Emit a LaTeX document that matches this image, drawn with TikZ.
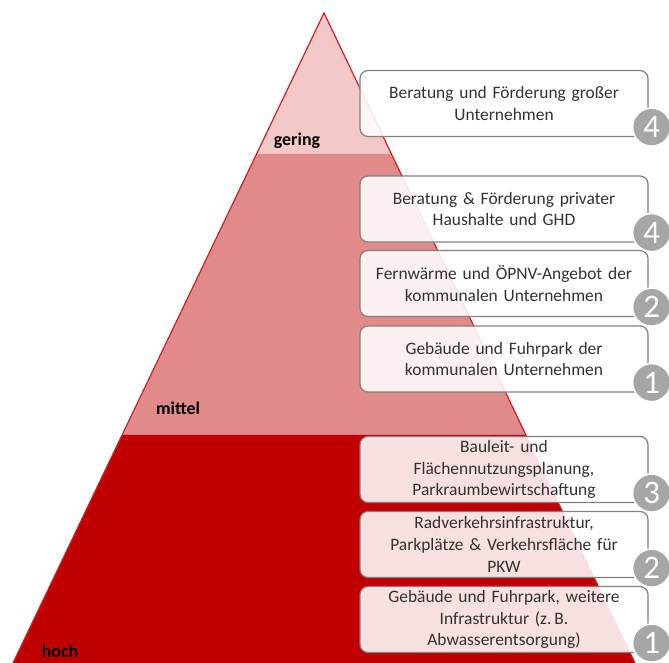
\documentclass[tikz,border=0pt]{standalone}
\usepackage{fontspec}
\setmainfont{Carlito}
\usetikzlibrary{calc}
\definecolor{low}{RGB}{242,200,201}
\definecolor{mid}{RGB}{224,138,137}
\definecolor{high}{RGB}{192,0,0}
\definecolor{edge}{RGB}{210,30,35}
\definecolor{boxline}{RGB}{128,128,128}
\definecolor{numfill}{RGB}{166,166,166}
\definecolor{txt}{RGB}{50,50,50}

\begin{document}
\begin{tikzpicture}[x=1bp, y=-1bp,
    box/.style={draw=boxline, line width=1.2bp, fill=white, fill opacity=0.88, text opacity=1, rounded corners=8bp,
      minimum width=288bp, minimum height=66bp, text width=280bp, inner sep=0pt, align=center, text=txt,
      font=\fontsize{17.5}{22}\selectfont},
    num/.style={circle, draw=white, line width=1.5bp, fill=numfill, text=white, minimum size=38bp, inner sep=0pt,
      font=\fontsize{33}{33}\selectfont},
    tier/.style={font=\bfseries\fontsize{18}{18}\selectfont}]
          \useasboundingbox (0, 0) rectangle (669, 663);
          \coordinate (A) at (324, 13);
          \coordinate (L) at (13, 663);
          \coordinate (R) at (635, 663);
          \coordinate (L1) at ($(A)!0.2169!(L)$);
          \coordinate (R1) at ($(A)!0.2169!(R)$);
          \coordinate (L2) at ($(A)!0.6492!(L)$);
          \coordinate (R2) at ($(A)!0.6492!(R)$);
          \fill[low] (A) -- (R1) -- (L1) -- cycle;
          \fill[mid] (L1) -- (R1) -- (R2) -- (L2) -- cycle;
          \fill[high] (L2) -- (R2) -- (R) -- (L) -- cycle;
          \draw[edge, line width=1.2bp] (L) -- (A) -- (R);

          \node[tier] (gering) at (297, 141) {gering};
          \node[tier] (mittel) at (178, 408) {mittel};
          \node[tier] (hoch) at (60, 651) {hoch};

          \node[box] (B1) at (504, 103.5) {Beratung und Förderung großer\\Unternehmen};
          \node[box] (B2) at (504, 209) {Beratung \& Förderung privater\\Haushalte und GHD};
          \node[box] (B3) at (504, 283.5) {Fernwärme und ÖPNV-Angebot der\\kommunalen Unternehmen};
          \node[box] (B4) at (504, 359) {Gebäude und Fuhrpark der\\kommunalen Unternehmen};
          \node[box] (B5) at (504, 469.5) {Bauleit- und\\Flächennutzungsplanung,\\Parkraumbewirtschaftung};
          \node[box] (B6) at (504, 544.5) {Radverkehrsinfrastruktur,\\Parkplätze \& Verkehrsfläche für\\PKW};
          \node[box] (B7) at (504, 619.5) {Gebäude und Fuhrpark, weitere\\Infrastruktur (z.\,B.\\Abwasserentsorgung)};

          \node[num] (N1) at ($(B1.south east)+(3, -10)$) {4};
          \node[num] (N2) at ($(B2.south east)+(3, -10)$) {4};
          \node[num] (N3) at ($(B3.south east)+(3, -10)$) {2};
          \node[num] (N4) at ($(B4.south east)+(3, -10)$) {1};
          \node[num] (N5) at ($(B5.south east)+(3, -10)$) {3};
          \node[num] (N6) at ($(B6.south east)+(3, -10)$) {2};
          \node[num] (N7) at ($(B7.south east)+(3, -10)$) {1};
\end{tikzpicture}
\end{document}
